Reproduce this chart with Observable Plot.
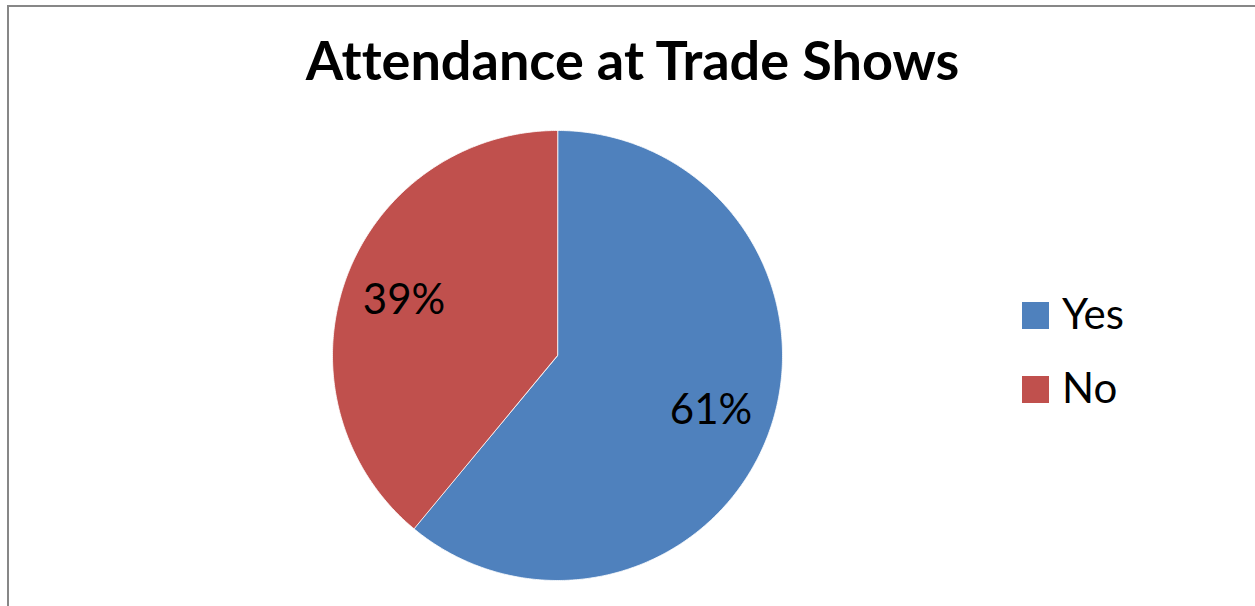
<!DOCTYPE html>
<html>
<head>
<meta charset="utf-8">
<script src="https://cdn.jsdelivr.net/npm/d3@7"></script>
<script src="https://cdn.jsdelivr.net/npm/@observablehq/plot@0.6"></script>
<style>
  html, body { margin: 0; padding: 0; background: #fff; }
  #wrap { position: relative; width: 1255px; height: 606px; overflow: hidden; background: #fff; font-family: Lato, "Open Sans", sans-serif; font-variant-ligatures: none; }
  #frame { position: absolute; left: 7px; top: 5px; width: 1400px; height: 800px; border: 2px solid #878787; box-sizing: border-box; }
  #title { position: absolute; left: 10px; width: 1245px; top: 29px; text-align: center; font-weight: bold; font-size: 54px; line-height: 62px; color: #000; white-space: nowrap; font-variant-ligatures: none; }
  #chart { position: absolute; left: 0; top: 0; }
  #legend { position: absolute; left: 1022px; top: 0; }
  .item { position: absolute; left: 0; white-space: nowrap; }
  .sw { position: absolute; left: 0; width: 27px; height: 27px; }
  .lab { position: absolute; left: 40px; font-size: 42px; line-height: 48px; color: #000; }
</style>
</head>
<body>
<div id="wrap">
  <div id="frame"></div>
  <div id="chart"></div>
  <div id="title"></div>
  <div id="legend"></div>
</div>
<script>
const title = "Attendance at Trade Shows";
const categories = ["Yes", "No"];
const values = [61, 39];
const colors = ["#4F81BD", "#C0504D"];

document.getElementById("title").textContent = title;

// Slice geometry from the data (angles via d3.pie, clockwise from 12 o'clock)
const data = categories.map((c, i) => ({category: c, value: values[i]}));
const total = d3.sum(values);
const arcs = d3.pie().sort(null).value(d => d.value)(data);
const pts = [];
for (const a of arcs) {
  const cat = a.data.category;
  pts.push({category: cat, x: 0, y: 0});
  const n = Math.max(8, Math.ceil((a.endAngle - a.startAngle) / (Math.PI / 360)));
  for (let k = 0; k <= n; k++) {
    const t = a.startAngle + (a.endAngle - a.startAngle) * k / n;
    pts.push({category: cat, x: Math.sin(t), y: Math.cos(t)});
  }
}
const labels = arcs.map(a => {
  const m = (a.startAngle + a.endAngle) / 2;
  return {
    category: a.data.category,
    x: 0.725 * Math.sin(m),
    y: 0.725 * Math.cos(m),
    text: Math.round(a.data.value / total * 100) + "%"
  };
});

const chart = Plot.plot({
  width: 1255,
  height: 606,
  margin: 0,
  style: {background: "transparent", fontFamily: "Lato, 'Open Sans', sans-serif", overflow: "visible"},
  x: {domain: [-1, 1], range: [332, 782], axis: null},
  y: {domain: [-1, 1], range: [580, 130], axis: null},
  color: {domain: categories, range: colors},
  marks: [
    Plot.line(pts, {x: "x", y: "y", z: "category", fill: "category", stroke: "white", strokeWidth: 1, strokeOpacity: 0.8, curve: "linear-closed"}),
    Plot.text(labels, {x: "x", y: "y", text: "text", fontSize: 42, fill: "black"})
  ]
});
document.getElementById("chart").appendChild(chart);

// Legend
const legend = document.getElementById("legend");
const legendTops = [302, 376];
categories.forEach((c, i) => {
  const item = document.createElement("div");
  item.className = "item";
  item.style.top = legendTops[i] + "px";
  const sw = document.createElement("div");
  sw.className = "sw";
  sw.style.background = colors[i];
  const lab = document.createElement("div");
  lab.className = "lab";
  lab.style.top = "-13px";
  lab.textContent = c;
  item.appendChild(sw);
  item.appendChild(lab);
  legend.appendChild(item);
});
</script>
</body>
</html>
